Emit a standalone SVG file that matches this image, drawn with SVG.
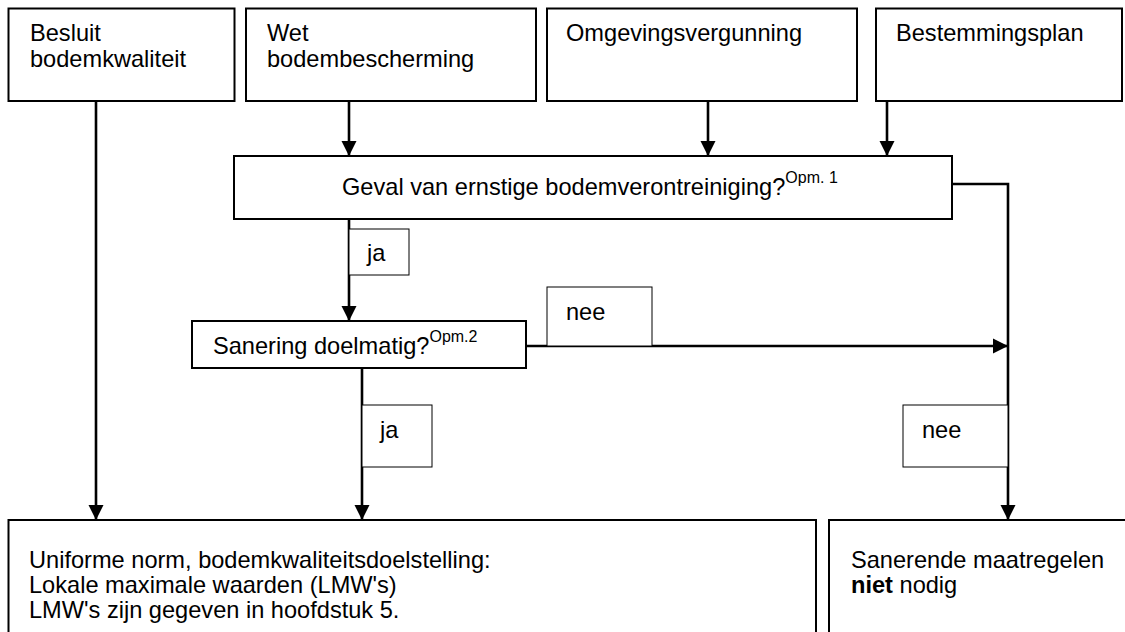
<svg xmlns="http://www.w3.org/2000/svg" width="1125" height="632" viewBox="0 0 1125 632">
<defs>
<marker id="ah" markerUnits="userSpaceOnUse" markerWidth="16" markerHeight="16" viewBox="0 0 16 16" refX="15" refY="8" orient="auto">
<path d="M0,0.5 L15,8 L0,15.5 Z" fill="#000"/>
</marker>
<style>
.box{fill:#fff;stroke:#000;stroke-width:2}
.lbl{fill:#fff;stroke:#000;stroke-width:1}
.t{font-family:"Liberation Sans",Arial,sans-serif;font-size:23.6px;fill:#000}
.sup{font-family:"Liberation Sans",Arial,sans-serif;font-size:16px;fill:#000}
.c{fill:none;stroke:#000;stroke-width:2.6}
</style>
</defs>
<rect width="1125" height="632" fill="#fff"/>
<g id="connectors">
<path class="c" d="M96,101 V520" marker-end="url(#ah)"/>
<path class="c" d="M349,101 V156" marker-end="url(#ah)"/>
<path class="c" d="M708,101 V156" marker-end="url(#ah)"/>
<path class="c" d="M887,101 V156" marker-end="url(#ah)"/>
<path class="c" d="M952,184 H1008 V520" marker-end="url(#ah)"/>
<path class="c" d="M349,219 V321" marker-end="url(#ah)"/>
<path class="c" d="M526,346 H1008" marker-end="url(#ah)"/>
<path class="c" d="M362,368 V520" marker-end="url(#ah)"/>
</g>
<g id="besluit">
<rect class="box" x="8.5" y="8.5" width="226" height="92.5"/>
<text class="t" x="30" y="41">Besluit</text>
<text class="t" x="30" y="67">bodemkwaliteit</text>
</g>
<g id="wet">
<rect class="box" x="246" y="8.5" width="290" height="92.5"/>
<text class="t" x="267" y="41">Wet</text>
<text class="t" x="267" y="67">bodembescherming</text>
</g>
<g id="omgeving">
<rect class="box" x="547" y="8.5" width="310" height="92.5"/>
<text class="t" x="566" y="41">Omgevingsvergunning</text>
</g>
<g id="bestemming">
<rect class="box" x="876" y="8.5" width="246" height="92.5"/>
<text class="t" x="896" y="41">Bestemmingsplan</text>
</g>
<g id="geval">
<rect class="box" x="234" y="156" width="718" height="63"/>
<text class="t" x="342" y="195">Geval van ernstige bodemverontreiniging?<tspan class="sup" dy="-12">Opm. 1</tspan></text>
</g>
<g id="label-ja1">
<rect class="lbl" x="349" y="229" width="60" height="46"/>
<text class="t" x="367" y="261">ja</text>
</g>
<g id="sanering">
<rect class="box" x="192" y="321" width="334" height="47"/>
<text class="t" x="213" y="354">Sanering doelmatig?<tspan class="sup" dy="-12">Opm.2</tspan></text>
</g>
<g id="label-nee1">
<rect class="lbl" x="547" y="287" width="105" height="59"/>
<text class="t" x="566" y="320">nee</text>
</g>
<g id="label-ja2">
<rect class="lbl" x="362" y="405" width="70" height="62"/>
<text class="t" x="380" y="438">ja</text>
</g>
<g id="label-nee2">
<rect class="lbl" x="903" y="405" width="105" height="62"/>
<text class="t" x="922" y="438">nee</text>
</g>
<g id="uniforme">
<rect class="box" x="8.5" y="520" width="807.5" height="120"/>
<text class="t" x="29" y="568">Uniforme norm, bodemkwaliteitsdoelstelling:</text>
<text class="t" x="29" y="593">Lokale maximale waarden (LMW's)</text>
<text class="t" x="29" y="618">LMW's zijn gegeven in hoofdstuk 5.</text>
</g>
<g id="sanerende">
<rect class="box" x="829" y="520" width="305" height="120"/>
<text class="t" x="851" y="568">Sanerende maatregelen</text>
<text class="t" x="851" y="593"><tspan font-weight="bold">niet</tspan> nodig</text>
</g>
</svg>
